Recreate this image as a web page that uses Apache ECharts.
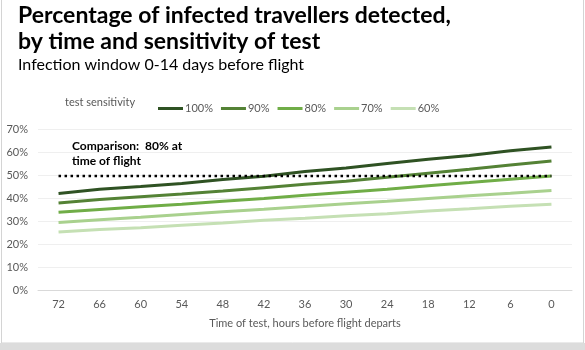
<!DOCTYPE html>
<html>
<head>
<meta charset="utf-8">
<script src="https://cdn.jsdelivr.net/npm/echarts@6/dist/echarts.min.js"></script>
<style>html,body{margin:0;padding:0;background:#fff}#c{width:585px;height:350px}</style>
</head>
<body>
<div id="c"></div>
<script>
var categories = ['72','66','60','54','48','42','36','30','24','18','12','6','0'];
var s100 = [42.0, 43.8, 45.0, 46.3, 48.0, 49.5, 51.5, 53.0, 55.0, 56.8, 58.5, 60.5, 62.2];
var s90  = [37.8, 39.3, 40.5, 41.7, 43.0, 44.5, 46.0, 47.3, 49.0, 50.8, 52.5, 54.3, 56.1];
var s80  = [33.8, 35.0, 36.2, 37.3, 38.6, 39.8, 41.2, 42.5, 43.8, 45.3, 46.7, 48.2, 49.6];
var s70  = [29.3, 30.5, 31.6, 32.8, 34.0, 35.1, 36.3, 37.5, 38.6, 39.8, 41.0, 42.1, 43.3];
var s60  = [25.2, 26.3, 27.1, 28.2, 29.1, 30.3, 31.2, 32.3, 33.2, 34.4, 35.3, 36.4, 37.3];
var comparison = [49.6, 49.6, 49.6, 49.6, 49.6, 49.6, 49.6, 49.6, 49.6, 49.6, 49.6, 49.6, 49.6];
var yTicks = [0, 10, 20, 30, 40, 50, 60, 70];

var seriesNames = ['100%','90%','80%','70%','60%'];
var seriesData = [s100, s90, s80, s70, s60];
var seriesColors = ['#2f5223','#548235','#70ad47','#a9d18e','#c5e0b4'];

var chart = echarts.init(document.getElementById('c'), null, {renderer:'canvas'});
var series = seriesNames.map(function(n, i){
  return {name:n, type:'line', data:seriesData[i], symbol:'none', z: 5 - i,
    lineStyle:{color:seriesColors[i], width:3}, itemStyle:{color:seriesColors[i]}};
});
series.push({name:'Comparison', type:'line', data:comparison, symbol:'none', z:10,
  lineStyle:{color:'#000', width:2.5, type:[2.5,3.5], cap:'butt'}});

chart.setOption({
  animation:false,
  backgroundColor:'#ffffff',
  textStyle:{fontFamily:'Lato'},
  graphic:[
    {type:'rect', shape:{x:1.5, y:-2, width:582, height:345}, style:{fill:'none', stroke:'#d4d4d4', lineWidth:1}, z:-1},
    {type:'rect', shape:{x:0, y:343, width:585, height:7}, style:{fill:'#dcdcdc'}, z:-1},
    {type:'text', left:18, top:3, style:{text:'Percentage of infected travellers detected,\nby time and sensitivity of test', font:'bold 23px Lato', lineHeight:26, fill:'#000'}},
    {type:'text', left:18, top:57, style:{text:'Infection window 0-14 days before flight', font:'16px Lato', fill:'#000'}},
    {type:'text', left:65, top:97, style:{text:'test sensitivity', font:'11px Lato', fill:'#595959'}},
    {type:'text', left:72, top:139, style:{text:'Comparison:  80% at\ntime of flight', font:'bold 12px Lato', lineHeight:15, fill:'#000'}}
  ],
  legend:{
    data:seriesNames, left:153, top:98, icon:'rect', itemWidth:25, itemHeight:3, itemGap:8,
    textStyle:{color:'#595959', fontSize:11, fontFamily:'Lato', padding:[0,0,0,-3]}
  },
  grid:{left:38, right:13, top:129, bottom:60},
  xAxis:{
    type:'category', data:categories, boundaryGap:true,
    name:'Time of test, hours before flight departs', nameLocation:'middle', nameGap:28,
    nameTextStyle:{color:'#595959', fontSize:11},
    axisLine:{lineStyle:{color:'#d9d9d9'}}, axisTick:{show:false},
    axisLabel:{color:'#595959', fontSize:11, margin:9}
  },
  yAxis:{
    type:'value', min:0, max:70, interval:10,
    axisLabel:{color:'#595959', fontSize:11, margin:10, formatter:function(v){return yTicks.indexOf(v)>=0? v+'%':'';}},
    splitLine:{lineStyle:{color:'#efefef'}}, axisLine:{show:false}, axisTick:{show:false}
  },
  series:series
});
</script>
</body>
</html>
